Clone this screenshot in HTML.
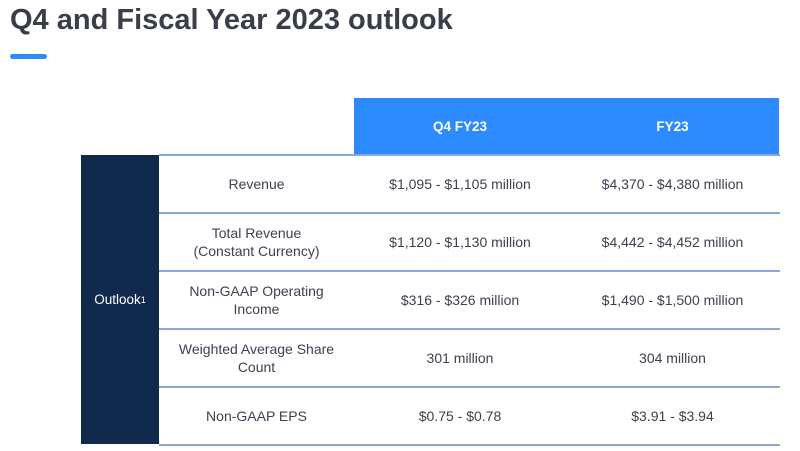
<!DOCTYPE html>
<html><head><meta charset="utf-8"><style>
body{margin:0;width:800px;height:451px;background:#fff;position:relative;overflow:hidden;font-family:"Liberation Sans",sans-serif;color:#3d4150}
.abs{position:absolute}
h1{position:absolute;left:10px;top:4px;margin:0;font-size:29px;font-weight:bold;color:#3a3e4a;letter-spacing:0px}
.bar{left:10px;top:54px;width:37px;height:5px;background:#2d8bff;border-radius:3px}
.hdr{top:98px;height:57px;background:#2d8bff;color:#fff;font-size:13.5px;font-weight:bold;display:flex;align-items:center;justify-content:center}
.side{left:81px;top:155px;width:78px;height:289px;background:#0f2a4d;color:#fff;font-size:13.5px;display:flex;align-items:center;justify-content:center}
.line{left:159px;width:621px;height:2px;background:#86a9d6}
.cell{height:56px;display:flex;align-items:center;justify-content:center;text-align:center;font-size:14px;line-height:18px}
</style></head><body>
<h1>Q4 and Fiscal Year 2023 outlook</h1>
<div class="abs bar"></div>
<div class="abs hdr" style="left:354px;width:212px">Q4 FY23</div>
<div class="abs hdr" style="left:566px;width:213px">FY23</div>
<div class="abs side">Outlook<sup style="font-size:9px">1</sup></div>
<div id="tbl"></div>
<script>
const metrics=["Revenue","Total Revenue<br>(Constant Currency)","Non-GAAP Operating<br>Income","Weighted Average Share<br>Count","Non-GAAP EPS"];
const q4=["$1,095 - $1,105 million","$1,120 - $1,130 million","$316 - $326 million","301 million","$0.75 - $0.78"];
const fy=["$4,370 - $4,380 million","$4,442 - $4,452 million","$1,490 - $1,500 million","304 million","$3.91 - $3.94"];
const t=document.getElementById('tbl');
for(let i=0;i<=metrics.length;i++){
  const l=document.createElement('div');l.className='abs line';l.style.top=(154+i*58)+'px';
  
  
  t.appendChild(l);
}
const cols=[[159,195,metrics],[354,212,q4],[566,213,fy]];
metrics.forEach((m,i)=>{
  cols.forEach((c,j)=>{
    const d=document.createElement('div');d.className='abs cell';
    d.style.left=c[0]+'px';d.style.width=c[1]+'px';d.style.top=(156+i*58)+'px';
    d.innerHTML=c[2][i];
    
    
    t.appendChild(d);
  });
});
</script>
</body></html>
